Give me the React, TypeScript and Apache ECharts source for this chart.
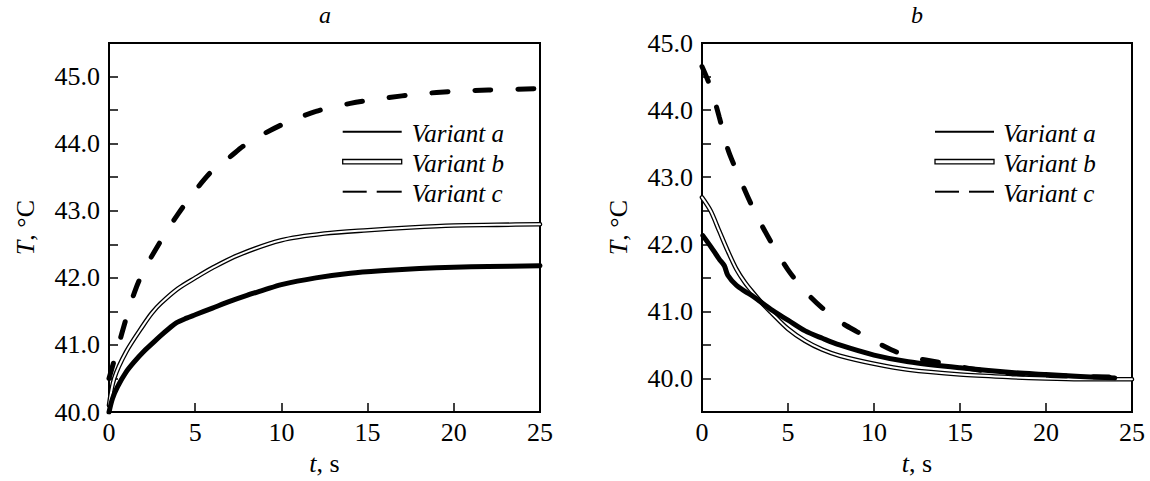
import React, { useEffect, useRef } from "react";
import * as echarts from "echarts";

const FONT = "Liberation Serif";

// Panel a: heating
const tA_a = [0, 0.2, 0.5, 1, 1.5, 2, 2.5, 3, 3.5, 3.9, 4.5, 5, 6, 7, 8, 9, 10, 12, 14, 16, 18, 20, 22, 25];
const vA_a = [40.0, 40.2, 40.38, 40.6, 40.76, 40.9, 41.02, 41.14, 41.25, 41.33, 41.4, 41.45, 41.55, 41.65, 41.74, 41.82, 41.9, 42.0, 42.07, 42.11, 42.14, 42.16, 42.17, 42.18];
const tA_b = [0, 0.3, 1, 2, 2.5, 3, 4, 5, 6, 7.5, 10, 12.5, 15, 17.5, 20, 22.5, 25];
const vA_b = [40.1, 40.5, 40.9, 41.3, 41.48, 41.62, 41.84, 42.0, 42.15, 42.34, 42.56, 42.66, 42.71, 42.75, 42.78, 42.79, 42.8];
const tA_c = [0, 0.5, 1, 1.5, 2, 3, 4, 5, 6, 7, 8, 10, 12, 14, 16, 18, 20, 22, 25];
const vA_c = [40.5, 40.95, 41.4, 41.8, 42.1, 42.55, 42.95, 43.3, 43.6, 43.8, 44.0, 44.28, 44.48, 44.6, 44.68, 44.74, 44.78, 44.8, 44.82];

// Panel b: cooling
const tB_a = [0.05, 0.5, 1, 1.3, 1.5, 2, 2.5, 3, 4, 5, 6, 7, 8, 10, 12, 15, 18, 20, 22, 24];
const vB_a = [42.13, 41.97, 41.78, 41.68, 41.54, 41.39, 41.3, 41.22, 41.03, 40.87, 40.71, 40.6, 40.5, 40.35, 40.25, 40.16, 40.09, 40.06, 40.03, 40.01];
const tB_b = [0, 0.5, 1, 1.5, 2, 2.5, 3, 3.5, 4, 5, 6, 7, 8, 10, 12, 15, 18, 20, 22, 25];
const vB_b = [42.7, 42.5, 42.2, 41.9, 41.63, 41.43, 41.27, 41.12, 40.99, 40.74, 40.56, 40.43, 40.34, 40.22, 40.13, 40.06, 40.02, 40.0, 39.99, 39.99];
const tB_c = [0, 0.5, 1, 1.5, 2, 3, 4, 5, 6, 7, 8, 9, 10, 11, 12, 14, 16, 18, 20, 22, 24.2];
const vB_c = [44.65, 44.34, 43.9, 43.42, 43.1, 42.52, 42.04, 41.62, 41.3, 41.05, 40.85, 40.7, 40.56, 40.43, 40.33, 40.23, 40.13, 40.08, 40.05, 40.03, 40.02];

const legendNames = ["Variant a", "Variant b", "Variant c"];
const panelTitles = ["a", "b"];

const pairs = (t: number[], v: number[]) => t.map((x, i) => [x, v[i]]);

const nameStyle = {
  fontFamily: FONT,
  fontSize: 26,
  color: "#000",
  rich: { i: { fontFamily: FONT, fontSize: 26, fontStyle: "italic", color: "#000" } },
};

const xAxisBase = (gridIndex: number) => ({
  type: "value",
  gridIndex,
  min: 0,
  max: 25,
  interval: 5,
  name: "{i|t}, s",
  nameLocation: "middle",
  nameGap: 35,
  nameTextStyle: nameStyle,
  axisLine: { show: true, lineStyle: { color: "#000", width: 2 } },
  axisTick: { show: true, inside: true, length: 9, lineStyle: { color: "#000", width: 1.5 } },
  axisLabel: { color: "#000", fontFamily: FONT, fontSize: 26, margin: 7, showMinLabel: true, showMaxLabel: true },
  splitLine: { show: false },
});

const yAxisBase = (gridIndex: number, min: number, max: number) => ({
  type: "value",
  gridIndex,
  min,
  max,
  interval: 0.5,
  name: "{i|T}, °C",
  nameLocation: "middle",
  nameGap: 71,
  nameRotate: 90,
  nameTextStyle: nameStyle,
  axisLine: { show: true, lineStyle: { color: "#000", width: 2 } },
  axisTick: { show: true, inside: true, length: 9, lineStyle: { color: "#000", width: 1.5 } },
  axisLabel: {
    color: "#000",
    fontFamily: FONT,
    fontSize: 26,
    margin: 9,
    showMinLabel: true,
    showMaxLabel: true,
    formatter: (v: number) => (Math.abs(v - Math.round(v)) < 1e-6 ? v.toFixed(1) : ""),
  },
  splitLine: { show: false },
});

const seriesFor = (idx: number, a: number[][], b: number[][], c: number[][]) => [
  { type: "line", name: "b-outer", xAxisIndex: idx, yAxisIndex: idx, data: b, showSymbol: false, smooth: 0.3, lineStyle: { color: "#000", width: 4.6, cap: "round" }, z: 2 },
  { type: "line", name: "b-inner", xAxisIndex: idx, yAxisIndex: idx, data: b, showSymbol: false, smooth: 0.3, lineStyle: { color: "#fff", width: 2.0, cap: "round" }, z: 3 },
  { type: "line", name: "a", xAxisIndex: idx, yAxisIndex: idx, data: a, showSymbol: false, smooth: 0.3, lineStyle: { color: "#000", width: 5, cap: "round", join: "round" }, z: 4 },
  { type: "line", name: "c", xAxisIndex: idx, yAxisIndex: idx, data: c, showSymbol: false, smooth: 0.3, lineStyle: { color: "#000", width: 5, type: [16, 27], cap: "round" }, z: 5 },
];

const legendGraphic = (x0: number, textX: number) => {
  const y0 = 131.7;
  const step = 30;
  const els: any[] = [
    { type: "line", shape: { x1: x0, y1: y0, x2: x0 + 59, y2: y0 }, style: { stroke: "#000", lineWidth: 2 } },
    { type: "rect", shape: { x: x0, y: y0 + step - 2.2, width: 59, height: 4.4 }, style: { fill: "#fff", stroke: "#000", lineWidth: 1.3 } },
    { type: "line", shape: { x1: x0, y1: y0 + 2 * step, x2: x0 + 24, y2: y0 + 2 * step }, style: { stroke: "#000", lineWidth: 2 } },
    { type: "line", shape: { x1: x0 + 34, y1: y0 + 2 * step, x2: x0 + 59, y2: y0 + 2 * step }, style: { stroke: "#000", lineWidth: 2 } },
  ];
  legendNames.forEach((n, i) => {
    els.push({
      type: "text",
      x: textX,
      y: 133 + i * step,
      style: { text: n, fill: "#000", fontFamily: FONT, fontSize: 25, fontStyle: "italic", align: "left", verticalAlign: "middle" },
    });
  });
  return els;
};

export default function App() {
  const ref = useRef<HTMLDivElement>(null);
  useEffect(() => {
    if (!ref.current) return;
    const chart = echarts.init(ref.current, undefined, { renderer: "svg" });
    chart.setOption({
      animation: false,
      backgroundColor: "#fff",
      textStyle: { fontFamily: FONT },
      grid: [
        { left: 109, top: 43, width: 431, height: 375, show: true, borderColor: "#000", borderWidth: 2, backgroundColor: "transparent" },
        { left: 702, top: 43, width: 430, height: 375, show: true, borderColor: "#000", borderWidth: 2, backgroundColor: "transparent" },
      ],
      xAxis: [xAxisBase(0), xAxisBase(1)],
      yAxis: [yAxisBase(0, 40, 45.5), yAxisBase(1, 39.5, 45)],
      series: [
        ...seriesFor(0, pairs(tA_a, vA_a), pairs(tA_b, vA_b), pairs(tA_c, vA_c)),
        ...seriesFor(1, pairs(tB_a, vB_a), pairs(tB_b, vB_b), pairs(tB_c, vB_c)),
      ],
      graphic: [
        { type: "text", x: 325, y: 15, style: { text: panelTitles[0], fill: "#000", fontFamily: FONT, fontSize: 24, fontStyle: "italic", align: "center", verticalAlign: "middle" } },
        { type: "text", x: 917, y: 15, style: { text: panelTitles[1], fill: "#000", fontFamily: FONT, fontSize: 24, fontStyle: "italic", align: "center", verticalAlign: "middle" } },
        ...legendGraphic(342.7, 411.7),
        ...legendGraphic(935, 1003.3),
      ],
    });
    return () => chart.dispose();
  }, []);
  return <div ref={ref} style={{ position: "fixed", left: 0, top: 0, width: 1150, height: 481 }} />;
}
